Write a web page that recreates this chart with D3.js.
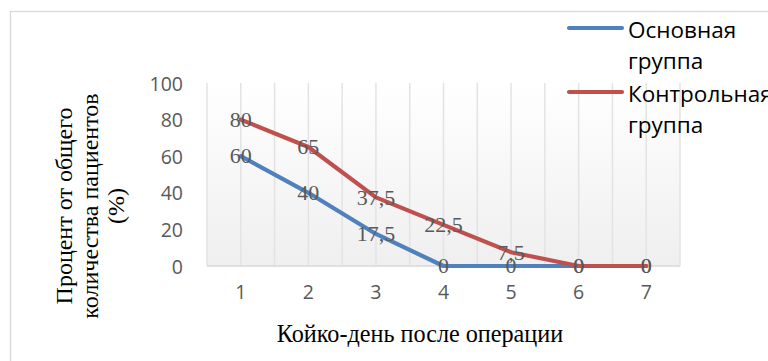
<!DOCTYPE html>
<html>
<head>
<meta charset="utf-8">
<script src="https://cdn.jsdelivr.net/npm/d3@7/dist/d3.min.js"></script>
<style>
  html, body { margin: 0; padding: 0; background: #fff; }
  svg { display: block; }
</style>
</head>
<body>
<svg id="chart" width="768" height="361"></svg>
<script>
// Койко-день после операции и доля пациентов (%) в двух группах
const days = [1, 2, 3, 4, 5, 6, 7];
const mainGroup = [60, 40, 17.5, 0, 0, 0, 0];
const controlGroup = [80, 65, 37.5, 22.5, 7.5, 0, 0];
const yTicks = [0, 20, 40, 60, 80, 100];
const seriesNames = ["Основная группа", "Контрольная группа"];
const seriesColors = ["#4f81bd", "#c0504d"];

const svg = d3.select("#chart");

// chart frame
svg.append("rect")
  .attr("x", 10.5).attr("y", 11.5)
  .attr("width", 800).attr("height", 400)
  .attr("fill", "#fff")
  .attr("stroke", "#d9d9d9").attr("stroke-width", 1.3);

const plot = { left: 207, right: 680, top: 83, bottom: 266 };

const x = d3.scaleBand().domain(days).range([plot.left, plot.right]).padding(0);
const y = d3.scaleLinear().domain([0, 100]).range([plot.bottom, plot.top]);
const cx = d => x(d) + x.bandwidth() / 2;

// plot background: soft vertical gradient
const defs = svg.append("defs");
const grad = defs.append("linearGradient")
  .attr("id", "plotBg").attr("x1", 0).attr("y1", 0).attr("x2", 0).attr("y2", 1);
grad.append("stop").attr("offset", "0%").attr("stop-color", "#ffffff");
grad.append("stop").attr("offset", "100%").attr("stop-color", "#efefef");

svg.append("rect")
  .attr("x", plot.left).attr("y", plot.top)
  .attr("width", plot.right - plot.left).attr("height", plot.bottom - plot.top)
  .attr("fill", "url(#plotBg)");

// vertical gridlines at band edges and centres
const gridX = [];
days.forEach(d => { gridX.push(x(d)); gridX.push(cx(d)); });
gridX.push(plot.right);
svg.append("g").selectAll("line").data(gridX).join("line")
  .attr("x1", d => d).attr("x2", d => d)
  .attr("y1", plot.top).attr("y2", plot.bottom)
  .attr("stroke", "#e3e3e3").attr("stroke-width", 1.5);

// horizontal axis line
svg.append("line")
  .attr("x1", plot.left).attr("x2", plot.right)
  .attr("y1", plot.bottom).attr("y2", plot.bottom)
  .attr("stroke", "#d9d9d9").attr("stroke-width", 1.5);

// y axis tick labels
const yAxis = svg.append("g")
  .attr("transform", `translate(${plot.left - 24},0)`)
  .call(d3.axisLeft(y).tickValues(yTicks).tickSize(0).tickPadding(0));
yAxis.select(".domain").remove();
yAxis.selectAll("text")
  .attr("font-family", "'Open Sans', sans-serif")
  .attr("font-size", 19.5)
  .attr("fill", "#595959")
  .attr("x", 0).attr("dy", "0.36em");

// x axis tick labels
const xAxis = svg.append("g")
  .attr("transform", `translate(0,${plot.bottom})`)
  .call(d3.axisBottom(x).tickSize(0).tickPadding(0));
xAxis.select(".domain").remove();
xAxis.selectAll("text")
  .attr("font-family", "'Open Sans', sans-serif")
  .attr("font-size", 19.5)
  .attr("fill", "#595959")
  .attr("y", 33).attr("dy", 0);

// axis titles
svg.append("text")
  .attr("x", 420).attr("y", 342)
  .attr("text-anchor", "middle")
  .attr("font-family", "'Liberation Serif', 'Times New Roman', serif")
  .attr("font-size", 24.2)
  .attr("fill", "#000")
  .text("Койко-день после операции");

const yTitle = svg.append("text")
  .attr("transform", "translate(72,206) rotate(-90)")
  .attr("text-anchor", "middle")
  .attr("font-family", "'Liberation Serif', 'Times New Roman', serif")
  .attr("font-size", 24)
  .attr("fill", "#000");
["Процент от общего", "количества пациентов", "(%)"].forEach((t, i) => {
  yTitle.append("tspan").attr("x", 0).attr("y", i * 26).text(t);
});

// series lines
const series = [mainGroup, controlGroup];
const line = d3.line()
  .x((v, i) => cx(days[i]))
  .y(v => y(v));

svg.append("g").selectAll("path").data(series).join("path")
  .attr("d", d => line(d))
  .attr("fill", "none")
  .attr("stroke", (d, i) => seriesColors[i])
  .attr("stroke-width", 4.2)
  .attr("stroke-linecap", "round")
  .attr("stroke-linejoin", "round");

// value labels centred on each point
const fmt = v => String(v).replace(".", ",");
series.forEach(vals => {
  svg.append("g").selectAll("text").data(vals).join("text")
    .attr("x", (v, i) => cx(days[i]))
    .attr("y", v => y(v))
    .attr("dy", "0.33em")
    .attr("text-anchor", "middle")
    .attr("font-family", "'Liberation Serif', 'Times New Roman', serif")
    .attr("font-size", 22)
    .attr("fill", "#595959")
    .text(v => fmt(v));
});

// legend
const legend = svg.append("g");
const legendItems = [
  { lines: ["Основная", "группа"], symY: 28, baseY: 38 },
  { lines: ["Контрольная", "группа"], symY: 92, baseY: 102 }
];
legendItems.forEach((it, i) => {
  legend.append("line")
    .attr("x1", 569).attr("x2", 622)
    .attr("y1", it.symY).attr("y2", it.symY)
    .attr("stroke", seriesColors[i])
    .attr("stroke-width", 4.2)
    .attr("stroke-linecap", "round");
  const t = legend.append("text")
    .attr("font-family", "'Open Sans', sans-serif")
    .attr("font-size", 22.5)
    .attr("fill", "#000")
    .attr("aria-label", seriesNames[i]);
  it.lines.forEach((s, j) => {
    t.append("tspan").attr("x", 628).attr("y", it.baseY + j * 31).text(s);
  });
});
</script>
</body>
</html>
